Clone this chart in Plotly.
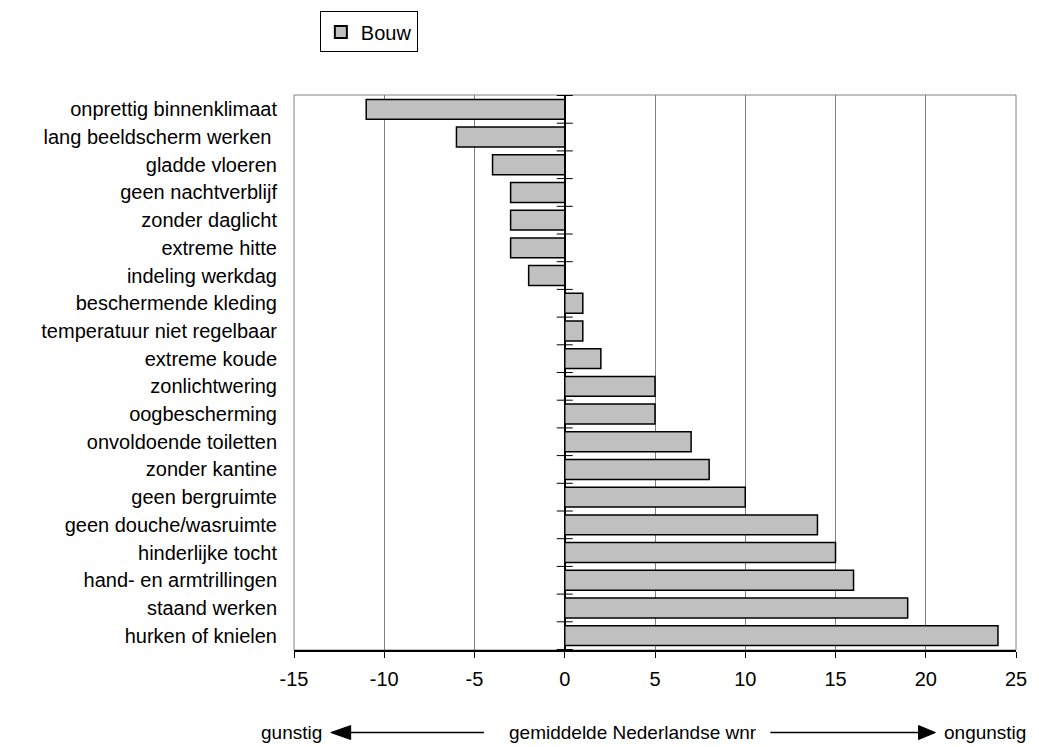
import plotly.graph_objects as go

categories = [
    "onprettig binnenklimaat", "lang beeldscherm werken ", "gladde vloeren",
    "geen nachtverblijf", "zonder daglicht", "extreme hitte", "indeling werkdag",
    "beschermende kleding", "temperatuur niet regelbaar", "extreme koude",
    "zonlichtwering", "oogbescherming", "onvoldoende toiletten", "zonder kantine",
    "geen bergruimte", "geen douche/wasruimte", "hinderlijke tocht",
    "hand- en armtrillingen", "staand werken", "hurken of knielen",
]
bouw = [-11, -6, -4, -3, -3, -3, -2, 1, 1, 2, 5, 5, 7, 8, 10, 14, 15, 16, 19, 24]
x_ticks = [-15, -10, -5, 0, 5, 10, 15, 20, 25]

W, H = 1039, 747
L, R, T, B = 294, 1020, 92, 650
FONT = "Liberation Sans, Arial, sans-serif"

def px(p):
    return (p - L) / (R - L)

def py(p):
    return (B - p) / (B - T)

fig = go.Figure()
fig.add_trace(go.Bar(
    x=bouw, y=categories, orientation="h", name="Bouw",
    marker=dict(color="#c0c0c0", line=dict(color="black", width=1.5)),
))

shapes = []
# plot border (gray)
shapes.append(dict(type="rect", xref="paper", yref="paper", x0=0, x1=1, y0=0, y1=1,
                   line=dict(color="#808080", width=1), layer="below"))
# category boundary ticks crossing the zero axis
for i in range(len(categories) + 1):
    shapes.append(dict(type="line", xref="x", yref="y", xsizemode="pixel", xanchor=0,
                       x0=-8, x1=8, y0=i - 0.5, y1=i - 0.5,
                       line=dict(color="black", width=1)))
# bottom arrows
ya = py(733)
hh = 7 / (B - T)
shapes.append(dict(type="line", xref="paper", yref="paper", x0=px(350), x1=px(485),
                   y0=ya, y1=ya, line=dict(color="black", width=1.5)))
shapes.append(dict(type="path", xref="paper", yref="paper",
                   path=f"M {px(331)},{ya} L {px(351)},{ya+hh} L {px(351)},{ya-hh} Z",
                   fillcolor="black", line=dict(color="black", width=1)))
shapes.append(dict(type="line", xref="paper", yref="paper", x0=px(773), x1=px(923),
                   y0=ya, y1=ya, line=dict(color="black", width=1.5)))
shapes.append(dict(type="path", xref="paper", yref="paper",
                   path=f"M {px(939)},{ya} L {px(922)},{ya+hh} L {px(922)},{ya-hh} Z",
                   fillcolor="black", line=dict(color="black", width=1)))

annotations = [
    dict(text="gunstig", xref="paper", yref="paper", x=px(324), y=ya,
         xanchor="right", yanchor="middle", showarrow=False),
    dict(text="gemiddelde Nederlandse wnr", xref="paper", yref="paper", x=px(635), y=ya,
         xanchor="center", yanchor="middle", showarrow=False),
    dict(text="ongunstig", xref="paper", yref="paper", x=px(946), y=ya,
         xanchor="left", yanchor="middle", showarrow=False),
]

fig.update_layout(
    width=W, height=H,
    margin=dict(l=L, r=W - R, t=T, b=H - B, pad=0),
    paper_bgcolor="white", plot_bgcolor="white",
    font=dict(family=FONT, size=19, color="black"),
    bargap=0.28,
    showlegend=True,
    legend=dict(x=px(320), y=py(8), xanchor="left", yanchor="top",
                bordercolor="black", borderwidth=1, bgcolor="white",
                font=dict(size=20, family=FONT), itemsizing="constant"),
    xaxis=dict(range=[-15, 25], tickvals=x_ticks, ticktext=[str(v) for v in x_ticks],
               showgrid=True, gridcolor="#808080", gridwidth=1,
               zeroline=True, zerolinecolor="black", zerolinewidth=1.5,
               showline=True, linecolor="black", linewidth=1.5,
               ticks="outside", ticklen=6, tickcolor="black",
               ticklabelstandoff=4,
               tickfont=dict(size=20), fixedrange=True),
    yaxis=dict(categoryorder="array", categoryarray=categories, autorange="reversed",
               showgrid=False, zeroline=False, showline=False, ticks="",
               ticklabelstandoff=16, tickfont=dict(size=20), fixedrange=True),
    shapes=shapes,
    annotations=annotations,
)

fig.write_html("out.html", config={"displayModeBar": False},
               post_script="document.body.style.margin='0';")
